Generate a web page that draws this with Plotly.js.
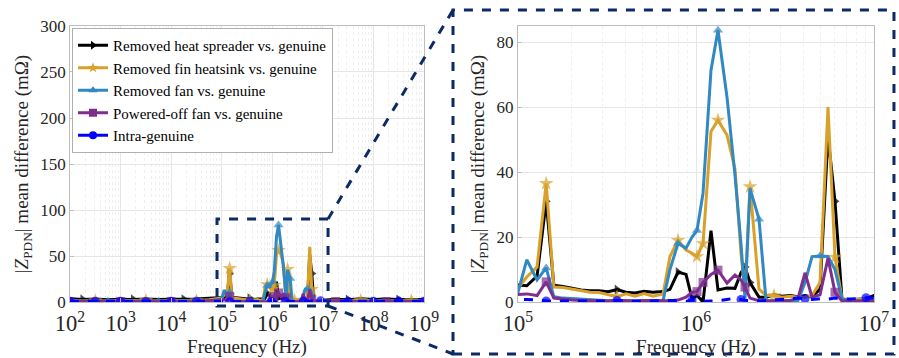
<!DOCTYPE html>
<html><head><meta charset="utf-8">
<script src="https://cdn.plot.ly/plotly-3.0.1.min.js"></script>
<style>html,body{margin:0;padding:0;background:#fff}#chart{width:899px;height:358px}</style>
</head><body><div id="chart"></div>
<script>
// Frequency points (Hz)
const frequency = [
  100, 178, 316, 562, 1000, 1780, 3160, 5620, 10000, 17800, 31600, 56200,
  1.00e5, 1.12e5, 1.28e5, 1.44e5, 1.59e5, 1.79e5, 2.01e5, 2.26e5, 2.54e5, 2.85e5,
  3.20e5, 3.60e5, 4.04e5, 4.54e5, 5.11e5, 5.73e5, 6.53e5, 7.14e5, 7.92e5, 8.79e5,
  9.50e5, 1.013e6, 1.095e6, 1.214e6, 1.329e6, 1.494e6, 1.656e6, 1.789e6, 1.885e6, 2.011e6,
  2.259e6, 2.474e6, 2.743e6, 3.042e6, 3.374e6, 3.742e6, 4.097e6, 4.485e6, 4.973e6, 5.515e6,
  6.037e6, 6.610e6, 7.331e6, 8.130e6, 9.017e6, 1.0e7,
  1.78e7, 3.16e7, 5.62e7, 1e8, 1.78e8, 3.16e8, 5.62e8, 1e9
];
const seriesNames = [
  'Removed heat spreader vs. genuine',
  'Removed fin heatsink vs. genuine',
  'Removed fan vs. genuine',
  'Powered-off fan vs. genuine',
  'Intra-genuine'
];
const heatSpreader = [
  3.5, 2.8, 3.2, 2.5, 3.0, 2.7, 3.4, 2.6, 3.1, 2.9, 3.3, 4.0,
  5.2, 5.0, 8.0, 31.0, 5.2, 4.8, 4.2, 3.7, 3.5, 3.5, 3.2, 3.8, 3.0, 2.8, 3.3, 3.0, 3.2, 3.9, 9.2, 8.5,
  1.0, 2.0, 0.0, 22.0, 3.7, 4.3, 4.2, 9.0, 10.8, 6.0, 1.5, 1.5, 2.2, 1.8, 2.0, 1.6, 2.0, 1.5, 4.0, 51.0,
  31.0, 0.8, 0.7, 0.8, 1.0, 2.0,
  3.0, 2.5, 3.5, 2.8, 3.2, 2.6, 3.0, 2.8
];
const finHeatsink = [
  1.8, 1.2, 1.5, 1.0, 1.6, 1.3, 1.7, 1.1, 1.4, 1.2, 1.5, 2.5,
  4.3, 7.7, 10.8, 36.5, 4.6, 4.5, 4.0, 3.5, 3.0, 2.9, 2.2, 1.6, 2.5, 1.8, 2.6, 1.8, 2.5, 14.0, 19.0, 16.0,
  15.0, 14.0, 18.0, 52.5, 56.0, 51.4, 41.0, 15.0, 3.0, 35.5, 4.0, 2.0, 2.0, 1.5, 1.8, 1.5, 1.5, 2.0, 6.0, 60.0,
  13.8, 1.0, 0.8, 0.7, 0.8, 1.0,
  1.5, 1.2, 1.8, 1.3, 1.6, 1.1, 1.4, 1.3
];
const fanRemoved = [
  1.0, 0.8, 1.2, 0.7, 1.1, 0.9, 1.0, 0.8, 1.2, 0.9, 1.0, 1.5,
  3.0, 13.0, 6.8, 10.5, 1.6, 1.2, 1.0, 0.8, 0.6, 0.5, 0.4, 0.5, 0.4, 0.4, 0.5, 0.4, 0.5, 10.0, 18.0, 16.6,
  20.0, 22.0, 33.5, 71.4, 83.7, 63.0, 39.0, 18.0, 1.0, 35.0, 25.5, 0.5, 0.3, 0.3, 0.5, 0.5, 6.0, 14.0, 14.2, 14.0,
  10.0, 1.0, 0.3, 0.3, 0.4, 0.5,
  0.9, 1.1, 0.8, 1.2, 0.9, 1.0, 0.8, 1.1
];
const fanPoweredOff = [
  0.6, 0.4, 0.7, 0.3, 0.5, 0.6, 0.4, 0.7, 0.5, 0.4, 0.6, 1.5,
  2.5, 2.5, 2.0, 6.2, 1.2, 0.8, 0.6, 0.5, 0.4, 0.4, 0.3, 0.5, 0.3, 0.3, 0.4, 0.3, 0.4, 0.4, 0.6, 1.5,
  3.0, 3.2, 6.0, 8.5, 9.8, 5.8, 8.3, 6.8, 4.6, 1.2, 0.4, 0.3, 0.3, 0.3, 0.5, 1.2, 9.0, 1.5, 2.2, 13.5,
  3.0, 0.3, 0.3, 0.3, 0.3, 0.3,
  0.5, 0.6, 0.4, 0.7, 0.5, 0.4, 0.6, 0.5
];
const intraGenuine = [
  0.8, 0.6, 0.9, 0.5, 0.7, 0.8, 0.6, 0.9, 0.7, 0.5, 0.8, 1.0,
  1.0, 0.8, 0.6, 0.3, 0.2, 0.3, 0.2, 0.3, 0.3, 0.2, 0.3, 0.5, 0.3, 0.2, 0.3, 0.3, 0.4, 0.3, 0.5, 0.2,
  0.6, 0.4, 0.2, 0.3, 0.4, 0.8, 1.2, 0.8, 0.5, 0.4, 0.3, 0.5, 0.6, 0.8, 1.0, 1.2, 1.0, 0.8, 1.0, 0.9,
  1.2, 1.0, 0.9, 1.1, 1.3, 1.2,
  1.0, 0.8, 1.1, 0.7, 0.9, 1.0, 0.8, 0.9
];

// ---- styling ----
const seriesValues = [heatSpreader, finHeatsink, fanRemoved, fanPoweredOff, intraGenuine];
const colors = ['#000000', '#D9A12A', '#3089C2', '#7E2F8E', '#0000FF'];
const symbols = ['triangle-right', 'star', 'triangle-up', 'square', 'circle'];
const dashes = ['solid', 'solid', 'solid', 'solid', 'dash'];
const markerAt = [
  [1, 5, 9, 15, 23, 30, 34, 40, 41, 52, 59, 63],
  [2, 6, 10, 15, 23, 30, 33, 34, 36, 41, 44, 52, 60, 64],
  [3, 7, 15, 30, 33, 36, 42, 50, 61, 65],
  [0, 4, 8, 15, 33, 34, 36, 40, 52, 58, 62],
  [0, 2, 4, 6, 8, 10, 15, 23, 32, 39, 48, 56, 59, 61, 63, 65]
];
const font = '"Liberation Serif"';
const traces = [];
seriesValues.forEach((vals, s) => {
  const sizes = frequency.map((_, i) => markerAt[s].includes(i) ? (s === 1 ? 11 : 9) : 0);
  [['x', 'y'], ['x2', 'y2']].forEach(([xa, ya]) => {
    traces.push({
      x: frequency, y: vals, xaxis: xa, yaxis: ya, type: 'scatter', mode: 'lines+markers',
      name: seriesNames[s], showlegend: false, cliponaxis: true,
      line: {color: colors[s], width: 3, dash: dashes[s]},
      marker: {color: colors[s], symbol: symbols[s], size: sizes, line: {width: 0}}
    });
  });
});
// legend entries
seriesNames.forEach((n, s) => {
  traces.push({
    x: [null], y: [null], xaxis: 'x', yaxis: 'y', type: 'scatter', mode: 'lines+markers',
    name: n, showlegend: true,
    line: {color: colors[s], width: 3, dash: 'solid'},
    marker: {color: colors[s], symbol: symbols[s], size: 8}
  });
});

const gridC = '#e6e6e6', lineC = '#bdbdbd', tickC = '#262626';
function xAx(domain, range, anchor) {
  return {
    type: 'log', range: range, domain: domain, anchor: anchor, dtick: 1, exponentformat: 'power',
    showgrid: true, gridcolor: gridC, gridwidth: 1, zeroline: false,
    minor: {dtick: 'D1', showgrid: true, gridcolor: '#efefef', griddash: 'dot', ticks: ''},
    showline: true, linecolor: lineC, linewidth: 1, mirror: true,
    ticks: 'inside', ticklen: 4, tickcolor: lineC, ticklabelstandoff: 2,
    tickfont: {family: font, size: 18, color: tickC},
    title: {text: 'Frequency (Hz)', font: {family: font, size: 19, color: tickC}, standoff: 2}
  };
}
function yAx(range, dtick, anchor) {
  return {
    range: range, dtick: dtick, domain: [0.1564, 0.9274], anchor: anchor,
    showgrid: true, gridcolor: gridC, zeroline: false,
    showline: true, linecolor: lineC, linewidth: 1, mirror: true,
    ticks: 'inside', ticklen: 4, tickcolor: lineC,
    tickfont: {family: font, size: 17, color: tickC},
    title: {text: '|<i>Z</i><sub>PDN</sub>| mean difference (mΩ)', font: {family: font, size: 19, color: tickC}, standoff: 6}
  };
}
const navy = '#0b2a66';
const dashLine = {color: navy, width: 3, dash: 'dash'};
const layout = {
  width: 899, height: 358, margin: {l: 0, r: 0, t: 0, b: 0},
  paper_bgcolor: '#ffffff', plot_bgcolor: '#ffffff',
  font: {family: font, color: tickC},
  xaxis: xAx([0.0779, 0.4716], [2, 9], 'y'),
  yaxis: yAx([0, 300], 50, 'x'),
  xaxis2: xAx([0.5762, 0.9722], [5, 7], 'y2'),
  yaxis2: yAx([0, 85], 20, 'x2'),
  showlegend: true,
  legend: {
    x: 0.0801, y: 0.9218, xanchor: 'left', yanchor: 'top',
    bgcolor: '#ffffff', bordercolor: '#b0b0b0', borderwidth: 1,
    font: {family: font, size: 15, color: '#000000'}, itemwidth: 30, tracegroupgap: 0
  },
  shapes: [
    {type: 'rect', xref: 'paper', yref: 'paper', x0: 0.2414, x1: 0.3649, y0: 0.1453, y1: 0.3883, line: dashLine},
    {type: 'rect', xref: 'paper', yref: 'paper', x0: 0.5039, x1: 0.9944, y0: 0.0112, y1: 0.9721, line: dashLine},
    {type: 'line', xref: 'paper', yref: 'paper', x0: 0.3649, y0: 0.3883, x1: 0.5039, y1: 0.9721, line: dashLine},
    {type: 'line', xref: 'paper', yref: 'paper', x0: 0.3649, y0: 0.1453, x1: 0.5039, y1: 0.0112, line: dashLine}
  ]
};
Plotly.newPlot('chart', traces, layout, {staticPlot: true, displayModeBar: false});
</script></body></html>
